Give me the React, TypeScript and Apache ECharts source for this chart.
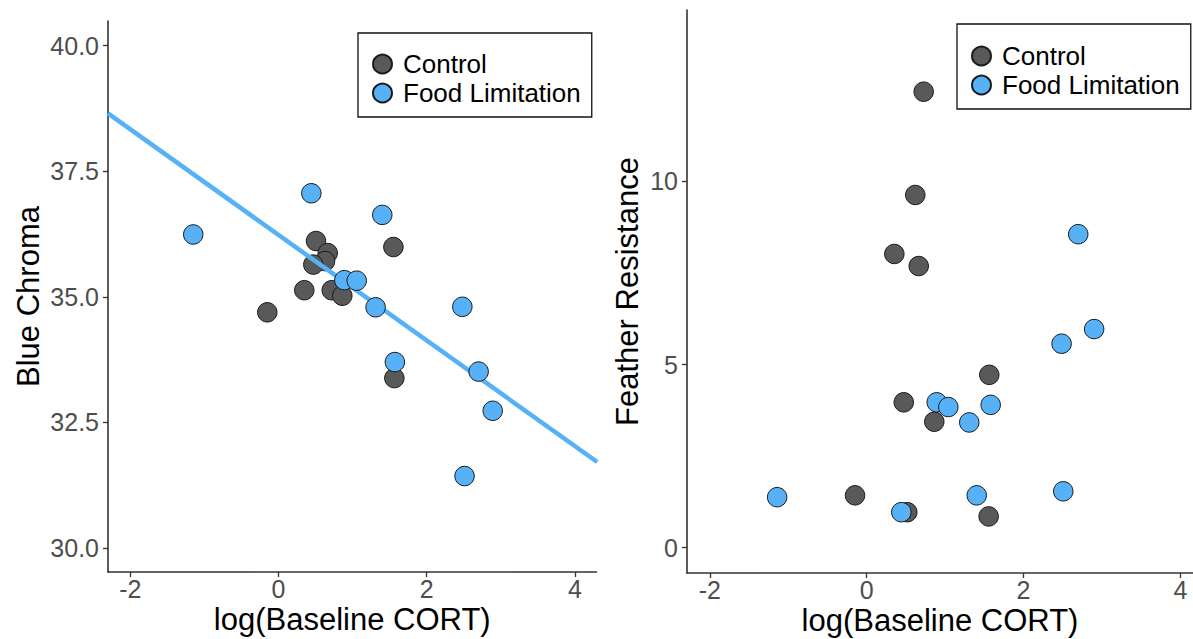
import { useEffect, useRef } from "react";
import * as echarts from "echarts";

// Tick values
const xTicks = [-2, 0, 2, 4];
const chromaTicks = [30, 32.5, 35, 37.5, 40];
const featherTicks = [0, 5, 10];

// Left panel: Blue Chroma vs log(Baseline CORT)
const chromaControl: [number, number][] = [
  [0.506, 36.11], [0.664, 35.87], [0.628, 35.71], [0.47, 35.64], [1.55, 35.99],
  [0.348, 35.13], [0.718, 35.13], [0.861, 35.02], [-0.151, 34.69], [1.563, 33.38],
];
const chromaFood: [number, number][] = [
  [-1.15, 36.24], [0.443, 37.06], [1.4, 36.63], [0.888, 35.33], [1.055, 35.32],
  [1.31, 34.79], [2.48, 34.8], [1.57, 33.7], [2.7, 33.51], [2.89, 32.73], [2.51, 31.43],
];
// Fitted line (Food Limitation) endpoints
const fitX = [-2.3, 4.3];
const fitChroma = [38.65, 31.71];

// Right panel: Feather Resistance vs log(Baseline CORT)
const featherControl: [number, number][] = [
  [0.727, 12.45], [0.62, 9.63], [0.353, 8.02], [0.664, 7.69], [1.563, 4.72],
  [0.473, 3.97], [0.862, 3.44], [-0.148, 1.43], [0.518, 0.97], [1.555, 0.855],
];
const featherFood: [number, number][] = [
  [2.697, 8.56], [2.9, 5.97], [2.485, 5.57], [1.581, 3.9], [0.893, 3.97],
  [1.041, 3.84], [1.308, 3.42], [-1.141, 1.38], [1.403, 1.43], [2.506, 1.54], [0.442, 0.97],
];

const groups = ["Control", "Food Limitation"];
const FONT = "Liberation Sans, Arial, Helvetica, sans-serif";
const GREY = "#595959";
const BLUE = "#56B1F7";

export default function App() {
  const ref = useRef<HTMLDivElement>(null);
  useEffect(() => {
    document.body.style.margin = "0";
    const chart = echarts.init(ref.current!, null, { renderer: "svg" });

    const axisCommon = (ticks: number[], margin: number, fmt?: (v: number) => string) => ({
      type: "value",
      splitLine: { show: false },
      axisLine: { show: true, onZero: false, lineStyle: { color: "#333", width: 1.6 } },
      axisTick: {
        show: true,
        length: 5,
        customValues: ticks,
        lineStyle: { color: "#333", width: 1.3 },
      },
      axisLabel: {
        customValues: ticks,
        color: "#4D4D4D",
        fontSize: 25,
        fontFamily: FONT,
        margin,
        formatter: fmt ? (v: number) => fmt(v) : (v: number) => String(v),
      },
      nameLocation: "middle",
      nameMoveOverlap: false,
      nameTextStyle: { color: "#000", fontSize: 31, fontFamily: FONT },
    });

    const legendCommon = {
      orient: "vertical",
      backgroundColor: "#fff",
      borderColor: "#111",
      borderWidth: 1.3,
      borderRadius: 0,
      itemWidth: 19,
      itemHeight: 19,
      itemGap: 3,
      icon: "circle",
      textStyle: {
        fontSize: 26, lineHeight: 26, color: "#000", fontFamily: FONT,
        padding: [0, 0, 0, 6],
      },
      data: groups,
    };

    const pointStyle = (color: string) => ({
      color,
      borderColor: "#1a1a1a",
      borderWidth: 1,
      opacity: 1,
    });

    chart.setOption({
      animation: false,
      textStyle: { fontFamily: FONT },
      grid: [
        { left: 108, top: 21, width: 488.5, height: 551, outerBoundsMode: "none", containLabel: false },
        { left: 687, top: 10, width: 506, height: 563, outerBoundsMode: "none", containLabel: false },
      ],
      xAxis: [
        { ...axisCommon(xTicks, 4), gridIndex: 0, min: -2.3, max: 4.29, name: "log(Baseline CORT)", nameGap: 32 },
        { ...axisCommon(xTicks, 4), gridIndex: 1, min: -2.29, max: 4.16, name: "log(Baseline CORT)", nameGap: 32 },
      ],
      yAxis: [
        {
          ...axisCommon(chromaTicks, 9, (v) => v.toFixed(1)),
          gridIndex: 0, min: 29.52, max: 40.49, name: "Blue Chroma", nameGap: 64,
        },
        {
          ...axisCommon(featherTicks, 9),
          gridIndex: 1, min: -0.69, max: 14.68, name: "Feather Resistance", nameGap: 44,
        },
      ],
      legend: [
        { ...legendCommon, left: 358, top: 33, padding: [18, 11, 11, 14] },
        { ...legendCommon, left: 957, top: 24, padding: [19, 11, 11, 14] },
      ],
      series: [
        {
          name: groups[0], type: "scatter", xAxisIndex: 0, yAxisIndex: 0,
          data: chromaControl, symbol: "circle", symbolSize: 19.5, z: 2,
          itemStyle: pointStyle(GREY),
        },
        {
          name: "fit", type: "line", xAxisIndex: 0, yAxisIndex: 0,
          data: fitX.map((x, i) => [x, fitChroma[i]]), showSymbol: false, symbol: "none",
          lineStyle: { color: BLUE, width: 4.5 }, z: 3, silent: true,
        },
        {
          name: groups[1], type: "scatter", xAxisIndex: 0, yAxisIndex: 0,
          data: chromaFood, symbol: "circle", symbolSize: 19.5, z: 4,
          itemStyle: pointStyle(BLUE),
        },
        {
          name: groups[0], type: "scatter", xAxisIndex: 1, yAxisIndex: 1,
          data: featherControl, symbol: "circle", symbolSize: 19.5, z: 2,
          itemStyle: pointStyle(GREY),
        },
        {
          name: groups[1], type: "scatter", xAxisIndex: 1, yAxisIndex: 1,
          data: featherFood, symbol: "circle", symbolSize: 19.5, z: 4,
          itemStyle: pointStyle(BLUE),
        },
      ],
    });
    return () => chart.dispose();
  }, []);
  return <div ref={ref} style={{ width: 1193, height: 639 }} />;
}
